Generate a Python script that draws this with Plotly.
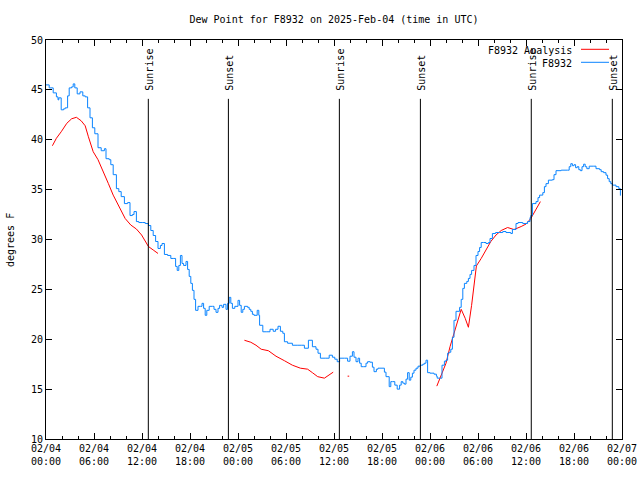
import datetime as dt
import plotly.graph_objects as go

START = dt.datetime(2025, 2, 4, 0, 0)

# Observed dew point (F8932): hours since 02/04 00:00 UTC, value in deg F
obs_hours = [0.0, 0.4, 0.9, 1.3, 1.5, 1.6, 1.9, 2.2, 2.4, 2.7, 2.9, 3.2, 3.4, 3.6, 3.9, 4.25, 4.6, 4.9,
             5.2, 5.5, 5.8, 6.1, 6.5, 6.9, 7.3, 7.5, 7.9, 8.1, 8.4, 8.8, 9.1, 9.4, 9.8, 10.2, 10.5, 10.8,
             11.0, 11.3, 11.6, 12.1, 12.4, 12.8, 13.1, 13.4, 13.7, 14.0, 14.3, 14.5, 14.8, 15.2, 15.6,
             15.9, 16.2, 16.4, 16.6, 16.8, 17.0, 17.2, 17.5, 17.7, 17.9, 18.1, 18.3, 18.5, 18.7, 19.0,
             19.3, 19.5, 19.7, 19.9, 20.1, 20.4, 20.8, 21.0, 21.25, 21.5, 21.7, 22.0, 22.2, 22.5, 22.7,
             22.9, 23.1, 23.3, 23.6, 24.0, 24.2, 24.4, 24.6, 24.8, 25.2, 25.4, 25.6, 25.8, 26.0, 26.4,
             26.6, 26.7, 27.1, 27.6, 28.0, 28.4, 28.7, 29.0, 29.3, 29.6, 29.8, 30.2, 30.8, 31.4, 31.9,
             32.3, 32.8, 33.3, 33.75, 34.0, 34.3, 34.9, 35.4, 35.8, 36.1, 36.4, 36.7, 37.3, 37.7, 38.0,
             38.3, 38.5, 38.75, 39.0, 39.2, 39.4, 39.7, 40.0, 40.2, 40.5, 40.8, 41.0, 41.3, 41.5, 42.0,
             42.3, 42.5, 42.9, 43.1, 43.3, 43.6, 43.9, 44.2, 44.4, 44.6, 44.8, 45.0, 45.2, 45.4, 45.6,
             45.8, 46.0, 46.25, 46.5, 46.8, 47.1, 47.3, 47.5, 47.7, 48.0, 48.5, 48.8, 48.9, 49.3, 49.5,
             49.8, 50.0, 50.2, 50.4, 50.6, 50.8, 51.0, 51.25, 51.7, 51.9, 52.1, 52.3, 52.6, 52.8, 53.0,
             53.2, 53.5, 53.75, 54.0, 54.2, 54.4, 54.7, 55.0, 55.3, 55.5, 55.8, 56.2, 56.7, 57.1, 57.5,
             58.1, 58.3, 58.75, 59.0, 59.6, 60.2, 60.5, 60.6, 60.8, 61.25, 61.5, 61.7, 62.1, 62.3, 62.5,
             62.8, 63.3, 63.5, 63.75, 64.4, 65.2, 65.4, 65.6, 65.8, 66.0, 66.2, 66.4, 66.6, 66.8, 67.0,
             67.2, 67.4, 67.6, 67.9, 68.4, 68.75, 69.2, 69.4, 69.7, 70.0, 70.2, 70.4, 70.6, 70.8, 71.25,
             71.6, 71.8]
obs_dewpt = [45.5, 45.2, 44.7, 44.3, 44.0, 44.2, 43.0, 43.1, 43.2, 44.4, 45.2, 45.3, 45.6, 45.2, 44.6, 44.8, 44.4, 44.3,
             43.2, 42.2, 41.2, 40.6, 39.2, 38.9, 39.1, 38.1, 38.0, 37.5, 36.5, 35.1, 34.8, 34.3, 33.6, 33.7, 32.4, 32.5,
             32.8, 31.8, 31.7, 31.7, 31.6, 31.4, 30.9, 30.4, 29.8, 29.1, 29.4, 29.6, 28.5, 28.4, 28.1,
             28.1, 27.3, 26.9, 27.4, 28.4, 27.6, 27.4, 27.8, 27.0, 26.3, 25.6, 24.9, 24.0, 22.9, 23.3,
             23.3, 23.6, 23.1, 22.4, 22.9, 23.3, 23.3, 23.0, 22.7, 23.1, 23.4, 23.2, 23.5, 23.0, 23.6,
             24.2, 23.6, 23.1, 23.3, 23.9, 23.4, 22.7, 23.0, 23.3, 23.2, 23.0, 22.8, 22.5, 22.4, 22.9,
             22.4, 21.4, 20.75, 20.75, 21.0, 20.8, 21.0, 21.3, 20.8, 20.6, 19.75, 19.6, 19.4, 19.4, 19.4,
             19.1, 19.9, 19.25, 19.0, 18.6, 18.1, 18.1, 18.4, 18.2, 18.0, 17.75, 18.1, 18.1, 17.8, 18.3,
             18.75, 18.2, 17.75, 18.1, 17.6, 17.25, 17.25, 17.6, 17.75, 17.7, 17.2, 16.75, 17.0, 17.1, 17.1,
             16.7, 16.25, 15.25, 15.75, 15.75, 15.4, 15.0, 15.4, 15.75, 15.6, 15.5, 16.0, 16.65, 15.9, 16.2,
             16.6, 16.9, 17.1, 17.3, 17.4, 17.5, 17.6, 17.9, 16.65, 16.6, 16.5, 16.3, 16.1, 16.1, 17.4,
             17.8, 17.9, 18.6, 18.7, 19.0, 20.2, 21.9, 22.8, 23.2, 24.0, 25.1, 25.6, 25.8, 26.1, 26.5,
             26.9, 27.4, 28.4, 28.8, 29.2, 29.7, 29.7, 29.6, 29.7, 30.1, 30.6, 30.7, 30.7, 30.8, 30.7,
             30.6, 31.0, 31.6, 31.7, 31.6, 31.8, 32.2, 32.4, 33.6, 33.8, 34.2, 34.45, 34.7, 35.3, 35.6,
             35.95, 36.0, 36.5, 36.9, 36.95, 36.95, 37.3, 37.6, 37.4, 37.5, 37.2, 37.3, 37.0, 36.9, 37.3,
             37.55, 37.3, 37.1, 37.35, 37.35, 37.1, 37.0, 36.8, 36.7, 36.45, 36.1, 35.8, 35.6, 35.45, 35.3,
             35.1, 34.4]

# Analysis dew point (F8932 Analysis); None marks gaps
ana_hours = [0.8, 1.3, 1.9, 2.6, 3.2, 3.8, 4.4, 4.9, 5.3, 5.9, 6.5, 7.2, 7.8, 8.4, 8.8, 9.25, 9.9,
             10.6, 11.3, 11.95, 12.4, 12.8, 13.4, 14.0, None,
             24.8, 25.6, 26.25, 26.9, 27.8, 28.75, 29.8, 30.8, 31.8, 32.7, 33.3, 33.96, 34.8, 35.4, 35.9, None,
             37.7, 37.9, None,
             48.85, 49.4, 50.0, 50.5, 50.9, 51.4, 51.9, 52.4, 52.8, 53.2, 53.5, 53.8, 54.4, 55.0, 55.6,
             56.25, 56.9, 57.7, 58.5, 59.4, 60.0, 60.6, 61.25, 61.8]
ana_dewpt = [39.4, 40.15, 40.8, 41.65, 42.1, 42.25, 41.9, 41.4, 40.3, 38.8, 38.0, 36.8, 35.6, 34.45, 33.8, 33.1, 32.1,
             31.45, 31.05, 30.45, 29.8, 29.3, 28.95, 28.6, None,
             19.9, 19.7, 19.4, 19.0, 18.85, 18.3, 17.85, 17.4, 17.1, 17.0, 16.65, 16.25, 16.1, 16.4, 16.7, None,
             16.3, 16.3, None,
             15.3, 16.4, 17.6, 19.25, 20.4, 21.75, 23.0, 22.1, 21.2, 23.4, 25.6, 27.35, 28.1, 28.95, 29.8,
             30.45, 30.9, 31.2, 31.0, 31.3, 31.55, 32.1, 32.95, 33.8]

# Sun events (hours since start)
sunrise_hours = [12.79, 36.67, 60.66]
sunset_hours = [22.8, 46.8, 70.79]

# X tick labels (every 6 hours)
tick_hours = [0, 6, 12, 18, 24, 30, 36, 42, 48, 54, 60, 66, 72]
tick_labels = ["02/04<br>00:00", "02/04<br>06:00", "02/04<br>12:00", "02/04<br>18:00",
               "02/05<br>00:00", "02/05<br>06:00", "02/05<br>12:00", "02/05<br>18:00",
               "02/06<br>00:00", "02/06<br>06:00", "02/06<br>12:00", "02/06<br>18:00",
               "02/07<br>00:00"]


def to_time(h):
    return None if h is None else START + dt.timedelta(hours=h)


FONT = "DejaVu Sans Mono"
BLUE = "#0a84ff"
RED = "#ff0000"

fig = go.Figure()
fig.add_trace(go.Scatter(x=[to_time(h) for h in ana_hours], y=ana_dewpt, mode="lines",
                         line=dict(color=RED, width=1), name="F8932 Analysis",
                         connectgaps=False, showlegend=False))
fig.add_trace(go.Scatter(x=[to_time(h) for h in obs_hours], y=obs_dewpt, mode="lines",
                         line=dict(color=BLUE, width=1, shape="hv"), name="F8932",
                         showlegend=False))

shapes = []
annotations = []
for label, hours in (("Sunrise", sunrise_hours), ("Sunset", sunset_hours)):
    for h in hours:
        t = to_time(h)
        shapes.append(dict(type="line", xref="x", yref="y", x0=t, x1=t, y0=10, y1=44.1,
                           line=dict(color="black", width=1)))
        annotations.append(dict(x=t, y=44.75, xref="x", yref="y", text=label, textangle=-90,
                                showarrow=False, xanchor="center", yanchor="bottom", xshift=1,
                                font=dict(family=FONT, size=10, color="black")))

# Manual gnuplot-style legend (text left, sample right)
L, W, T, H = 46, 576, 40, 399
def px(x):
    return (x - L) / W
def py(y):
    return (T + H - y) / H

for text, color, ytxt, yline in (("F8932 Analysis", RED, 50, 49.3), ("F8932", BLUE, 63, 62.3)):
    annotations.append(dict(x=px(574), y=py(ytxt), xref="paper", yref="paper", text=text,
                            showarrow=False, xanchor="right", yanchor="middle",
                            font=dict(family=FONT, size=10, color="black")))
    shapes.append(dict(type="line", xref="paper", yref="paper", x0=px(581), x1=px(609),
                       y0=py(yline), y1=py(yline), line=dict(color=color, width=1)))

annotations.append(dict(x=px(10), y=py(240), xref="paper", yref="paper", text="degrees F",
                        textangle=-90, showarrow=False, xanchor="center", yanchor="middle",
                        font=dict(family=FONT, size=10, color="black")))

fig.update_layout(
    width=640, height=480, autosize=False,
    margin=dict(l=L, r=640 - L - W, t=T, b=480 - T - H, autoexpand=False),
    paper_bgcolor="white", plot_bgcolor="white",
    font=dict(family=FONT, size=10, color="black"),
    title=dict(text="Dew Point for F8932 on 2025-Feb-04 (time in UTC)", x=0.5, xref="paper",
               y=1 - 19 / 480, yref="container", xanchor="center", yanchor="middle",
               font=dict(family=FONT, size=10, color="black")),
    shapes=shapes, annotations=annotations, showlegend=False,
    xaxis=dict(range=[to_time(0), to_time(72)], tickvals=[to_time(h) for h in tick_hours],
               ticktext=tick_labels, ticks="inside", ticklen=6, tickcolor="black",
               showline=True, linecolor="black", linewidth=1, mirror="ticks",
               showgrid=False, zeroline=False, automargin=False,
               minor=dict(dtick=2 * 3600 * 1000, tick0=to_time(0), ticks="inside", ticklen=3,
                          tickcolor="black", showgrid=False),
               tickfont=dict(family=FONT, size=10)),
    yaxis=dict(range=[10, 50], dtick=5, ticks="inside", ticklen=6, tickcolor="black",
               showline=True, linecolor="black", linewidth=1, mirror="ticks",
               showgrid=False, zeroline=False, automargin=False,
               tickfont=dict(family=FONT, size=10)),
)

fig.write_html(
    "out.html",
    config={"responsive": False, "displayModeBar": False},
    post_script="document.body.style.margin='0';document.body.style.overflow='hidden';",
)
